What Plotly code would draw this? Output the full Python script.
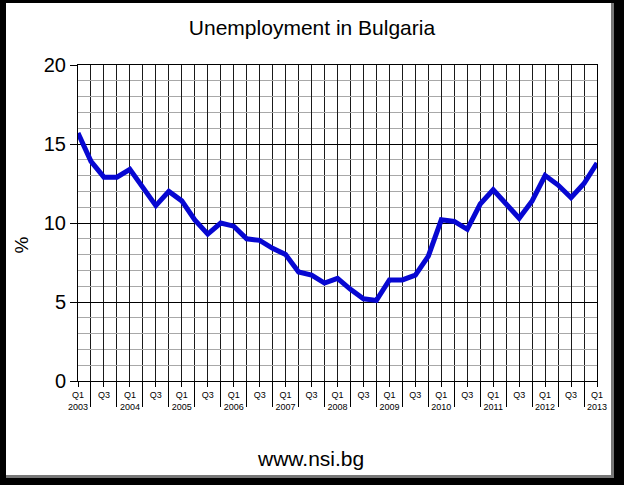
import plotly.graph_objects as go

# ---- data ----
years = ["2003", "2004", "2005", "2006", "2007", "2008", "2009", "2010", "2011", "2012", "2013"]
quarter_names = ["Q1", "Q2", "Q3", "Q4"]
unemployment = [15.7, 13.9, 12.9, 12.9, 13.4, 12.2, 11.1, 12.0, 11.4, 10.2,
                9.3, 10.0, 9.8, 9.0, 8.9, 8.4, 8.0, 6.9, 6.7, 6.2,
                6.5, 5.8, 5.2, 5.1, 6.4, 6.4, 6.7, 7.9, 10.2, 10.1,
                9.6, 11.2, 12.1, 11.2, 10.3, 11.4, 13.0, 12.4, 11.6, 12.5,
                13.8]
y_ticks = [0, 5, 10, 15, 20]

# build quarter index and labels
n = len(unemployment)
xs = list(range(n))
labels = []
for i in xs:
    q = quarter_names[i % 4]
    y = years[i // 4]
    labels.append(q + "<br>" + y if q == "Q1" else q)
major_vals = [i for i in xs if i % 2 == 0]
major_text = [labels[i] for i in major_vals]
minor_vals = [i for i in xs if i % 2 == 1]

W, H = 624, 485
L, R, T, B = 78, 27, 65, 104
pw, ph = W - L - R, H - T - B

def px_x(p):
    return (p - L) / pw

def px_y(p):
    return (H - B - p) / ph

fig = go.Figure()
fig.add_trace(go.Scatter(
    x=xs, y=unemployment, mode="lines",
    line=dict(color="#0707D2", width=5),
    hoverinfo="skip", showlegend=False,
))

font_family = "Liberation Sans, Arial, sans-serif"

fig.update_layout(
    width=W, height=H,
    margin=dict(l=L, r=R, t=T, b=B, pad=0),
    paper_bgcolor="white", plot_bgcolor="white",
    font=dict(family=font_family, color="black"),
    title=dict(text="Unemployment in Bulgaria", x=0.5, xref="container",
               y=1 - 28 / H, yref="container", yanchor="middle", xanchor="center",
               font=dict(size=21, color="black", family=font_family)),
    xaxis=dict(
        range=[0, n - 1], tickmode="array", tickvals=major_vals, ticktext=major_text,
        ticks="outside", ticklen=5, tickcolor="black", tickwidth=1,
        tickfont=dict(size=9, color="black"),
        showgrid=True, gridcolor="#1a1a1a", gridwidth=1,
        showline=True, linecolor="black", linewidth=1, mirror=True,
        zeroline=False, tickangle=0,
        minor=dict(tickmode="array", tickvals=minor_vals, ticks="outside", ticklen=25,
                   tickcolor="black", tickwidth=1, showgrid=True, gridcolor="#1a1a1a", gridwidth=1),
    ),
    yaxis=dict(
        range=[0, 20], tickmode="array", tickvals=y_ticks,
        ticks="outside", ticklen=7, tickcolor="black",
        tickfont=dict(size=20, color="black"),
        showgrid=True, gridcolor="black", gridwidth=1,
        showline=True, linecolor="black", linewidth=1, mirror=True,
        zeroline=False,
        minor=dict(dtick=1, showgrid=True, gridcolor="#a8a8a8", gridwidth=1),
    ),
)

fig.add_annotation(text="%", xref="paper", yref="paper", x=px_x(21.5), y=px_y(245),
                   textangle=-90, showarrow=False, font=dict(size=19, color="black"),
                   xanchor="center", yanchor="middle")
fig.add_annotation(text="www.nsi.bg", xref="paper", yref="paper", x=px_x(310), y=px_y(458),
                   showarrow=False, font=dict(size=21, color="black"),
                   xanchor="center", yanchor="middle")

# frame around the picture
frame = [
    (0, 0, 6, H, "black"),
    (0, 0, W, 3, "black"),
    (614, 0, W, H, "black"),
    (0, 478, W, H, "black"),
    (611, 3, 614, 478, "#777777"),
    (6, 475, 614, 478, "#777777"),
]
for x0, y0, x1, y1, c in frame:
    fig.add_shape(type="rect", xref="paper", yref="paper",
                  x0=px_x(x0), x1=px_x(x1), y0=px_y(y1), y1=px_y(y0),
                  fillcolor=c, line=dict(width=0), layer="above")

fig.write_html("out.html",
               config={"displayModeBar": False, "staticPlot": True},
               post_script="document.body.style.margin='0';document.body.style.overflow='hidden';")
